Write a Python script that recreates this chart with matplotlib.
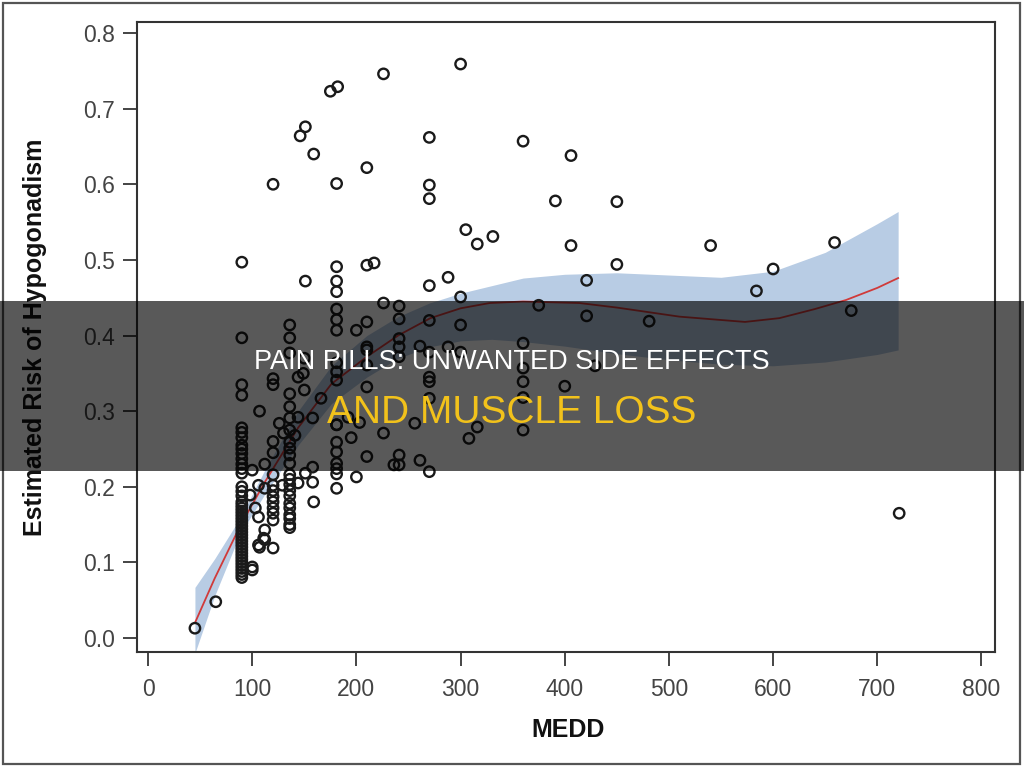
import matplotlib
matplotlib.use("Agg")
from matplotlib import pyplot as plt
from matplotlib.patches import Rectangle

plt.rcParams['font.family'] = ['Liberation Sans', 'DejaVu Sans']

# points sitting on the MEDD = 90 column
risk_90 = [0.497, 0.397, 0.335, 0.321, 0.278, 0.272, 0.265, 0.255, 0.250, 0.244,
           0.237, 0.230, 0.224, 0.218, 0.200, 0.194, 0.188, 0.180, 0.176, 0.172,
           0.168, 0.164, 0.160, 0.156, 0.152, 0.148, 0.144, 0.140, 0.136, 0.132,
           0.128, 0.124, 0.120, 0.116, 0.112, 0.108, 0.104, 0.100, 0.096, 0.092,
           0.088, 0.084, 0.080]

# all other points
medd = [45, 65,
        100, 100, 100, 98, 103, 106, 106, 107, 106, 107, 111, 112, 112, 112, 112,
        120, 120, 120, 120, 120, 120, 120, 120, 120, 120, 120, 120, 120, 120,
        126, 129, 130,
        136, 136, 136, 136, 136, 136, 136, 136, 136, 136, 136,
        136, 136, 136, 136, 136, 136, 136, 136, 136, 136, 136,
        141, 144, 144, 144, 146, 149, 150, 150, 151, 151, 151, 158, 158, 158,
        159, 159, 166, 175, 182,
        181, 181, 181, 181, 181, 181, 181, 181, 181, 181, 181,
        181, 181, 181, 181, 181, 181, 181,
        192, 195, 200, 200, 203,
        210, 210, 217, 210, 210, 210, 210, 210, 210,
        226, 226, 226, 236,
        241, 241, 241, 241, 241, 241, 241,
        256, 261, 261,
        270, 270, 270, 270, 270, 270, 270, 270, 270, 270,
        288, 288, 300, 300, 300, 300,
        305, 308, 316, 316, 331,
        360, 360, 360, 360, 360, 360,
        375, 391, 400, 406, 406, 421, 421, 429, 450, 450, 481, 540, 584, 600,
        659, 675, 721]
risk = [0.013, 0.048,
        0.090, 0.094, 0.222, 0.189, 0.172, 0.160, 0.123, 0.120, 0.202, 0.300, 0.132, 0.143, 0.130, 0.198, 0.230,
        0.600, 0.119, 0.156, 0.165, 0.172, 0.180, 0.187, 0.195, 0.202, 0.216, 0.245, 0.260, 0.335, 0.343,
        0.284, 0.202, 0.271,
        0.146, 0.150, 0.158, 0.163, 0.172, 0.178, 0.188, 0.195, 0.203, 0.210, 0.216,
        0.231, 0.242, 0.251, 0.259, 0.275, 0.291, 0.306, 0.323, 0.377, 0.397, 0.414,
        0.268, 0.205, 0.292, 0.345, 0.664, 0.350, 0.328, 0.370, 0.472, 0.676, 0.218, 0.226, 0.206, 0.291,
        0.180, 0.640, 0.317, 0.723, 0.729,
        0.601, 0.491, 0.472, 0.458, 0.435, 0.421, 0.407, 0.364, 0.352, 0.341, 0.282,
        0.259, 0.246, 0.231, 0.224, 0.217, 0.198, 0.282,
        0.292, 0.265, 0.407, 0.213, 0.285,
        0.622, 0.493, 0.496, 0.418, 0.385, 0.381, 0.361, 0.332, 0.240,
        0.746, 0.443, 0.271, 0.229,
        0.439, 0.422, 0.396, 0.385, 0.372, 0.242, 0.229,
        0.284, 0.386, 0.235,
        0.662, 0.599, 0.581, 0.466, 0.420, 0.378, 0.345, 0.339, 0.317, 0.220,
        0.477, 0.385, 0.759, 0.451, 0.414, 0.378,
        0.540, 0.264, 0.521, 0.279, 0.531,
        0.657, 0.390, 0.357, 0.339, 0.318, 0.275,
        0.440, 0.578, 0.333, 0.638, 0.519, 0.473, 0.426, 0.360, 0.577, 0.494, 0.419, 0.519, 0.459, 0.488,
        0.523, 0.433, 0.165]

# fitted curve and its confidence band
fit_x = [45, 64, 88, 112, 144, 176, 210, 240, 271, 300, 328, 360, 414, 450, 510,
         573, 606, 640, 670, 700, 720]
fit_y = [0.020, 0.079, 0.147, 0.206, 0.278, 0.336, 0.372, 0.400, 0.423, 0.436, 0.443,
         0.445, 0.443, 0.437, 0.425, 0.418, 0.423, 0.435, 0.447, 0.463, 0.476]
band_x = [45, 64, 88, 112, 144, 176, 210, 240, 270, 300, 330, 360, 400, 450, 500,
          550, 600, 650, 700, 720]
band_hi = [0.067, 0.105, 0.158, 0.222, 0.300, 0.360, 0.400, 0.425, 0.443, 0.456,
           0.466, 0.476, 0.481, 0.483, 0.480, 0.477, 0.485, 0.510, 0.548, 0.564]
band_lo = [-0.020, 0.056, 0.137, 0.190, 0.255, 0.310, 0.345, 0.370, 0.385, 0.393,
           0.395, 0.392, 0.386, 0.376, 0.368, 0.362, 0.360, 0.365, 0.375, 0.381]

x_ticks = [0, 100, 200, 300, 400, 500, 600, 700, 800]
y_ticks = [0.0, 0.1, 0.2, 0.3, 0.4, 0.5, 0.6, 0.7, 0.8]

title_1 = "PAIN PILLS: UNWANTED SIDE EFFECTS"
title_2 = "AND MUSCLE LOSS"

fig = plt.figure(figsize=(10.24, 7.69), dpi=100)
ax = fig.add_axes([0.1338, 0.1521, 0.8379, 0.8193])

ax.fill_between(band_x, band_lo, band_hi, color='#b8cce4', lw=0, zorder=1)
ax.plot(fit_x, fit_y, color='#d03a3a', lw=1.3, zorder=2)
ax.scatter([90] * len(risk_90), risk_90, s=56, facecolors='none',
           edgecolors='#1a1a1a', linewidths=1.7, zorder=3)
ax.scatter(medd, risk, s=56, facecolors='none',
           edgecolors='#1a1a1a', linewidths=1.7, zorder=3)

ax.set_xlim(-10.6, 813)
ax.set_ylim(-0.0185, 0.8146)
ax.set_xticks(x_ticks)
ax.set_yticks(y_ticks)
ax.set_yticklabels(['%.1f' % v for v in y_ticks])
ax.tick_params(axis='both', direction='out', length=10, width=1.4,
               color='#444444', labelcolor='#444444', labelsize=16.5)
ax.tick_params(axis='y', pad=6)
ax.tick_params(axis='x', pad=9)
for sp in ax.spines.values():
    sp.set_color('#333333')
    sp.set_linewidth(1.5)

fig.text(35 / 1024, 1 - 337 / 769, "Estimated Risk of Hypogonadism", rotation=90,
         ha='center', va='center', fontsize=18, fontweight='bold', color='#111111')
fig.text(568 / 1024, 1 - 730 / 769, "MEDD", ha='center', va='center',
         fontsize=18, fontweight='bold', color='#111111')

# outer frame
fig.add_artist(Rectangle((3 / 1024, 5 / 769), 1017 / 1024, 761 / 769,
                         transform=fig.transFigure, fill=False,
                         edgecolor='#555555', lw=1.6, zorder=4))

# dark banner with the title
fig.add_artist(Rectangle((0, 1 - 471 / 769), 1, 170 / 769, transform=fig.transFigure,
                         facecolor='black', alpha=0.65, lw=0, zorder=5))
fig.text(0.5, 1 - 362 / 769, title_1, ha='center', va='center', fontsize=19.5,
         color='white', zorder=6)
fig.text(0.5, 1 - 413 / 769, title_2, ha='center', va='center', fontsize=28,
         color='#f2c21b', zorder=6)

fig.savefig('out.png', dpi=100)
